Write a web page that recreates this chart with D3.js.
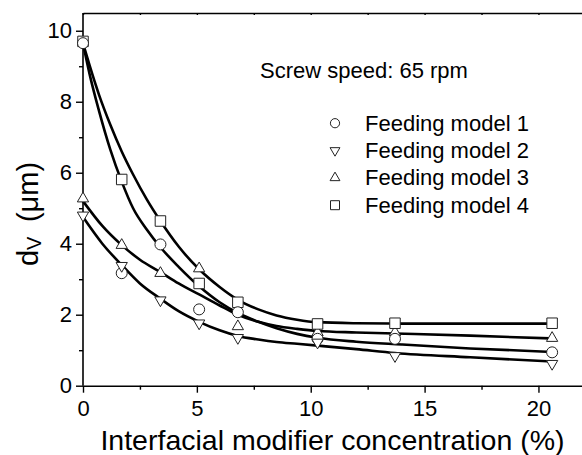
<!DOCTYPE html>
<html>
<head>
<meta charset="utf-8">
<script src="https://cdn.jsdelivr.net/npm/d3@7"></script>
<style>
  html, body { margin: 0; padding: 0; background: #fff; }
  svg { display: block; }
  text { font-family: "Liberation Sans", Arial, Helvetica, sans-serif; fill: #000; }
</style>
</head>
<body>
<svg id="chart" width="582" height="455"></svg>
<script>
// ---- data ----
const concentrations = [0, 1.7, 3.4, 5.1, 6.8, 10.3, 13.7, 20.6];
const model1 = [9.65, 3.17, 3.98, 2.15, 2.07, 1.32, 1.32, 0.94];   // circles
const model2 = [4.80, 3.38, 2.41, 1.76, 1.35, 1.22, 0.84, 0.62];   // down triangles
const model3 = [5.27, 3.96, 3.17, 3.30, 1.67, 1.50, 1.50, 1.34];   // up triangles
const model4 = [9.70, 5.81, 4.64, 2.88, 2.35, 1.74, 1.76, 1.76];   // squares

// fitted curves
const fitX1 = [0, 0.3, 0.7, 1.2, 1.7, 2.2, 2.8, 3.4, 4.2, 5.1, 6.0, 6.8, 7.7, 8.5, 9.4, 10.3, 12, 14, 17, 20.6];
const fit1  = [9.65, 8.75, 7.75, 6.65, 5.75, 5.0, 4.4, 3.9, 3.35, 2.8, 2.35, 2.05, 1.8, 1.62, 1.46, 1.35, 1.24, 1.16, 1.05, 0.95];
const fitX2 = [0, 0.85, 1.7, 2.5, 3.4, 4.2, 5.1, 6.0, 6.8, 7.7, 8.5, 9.4, 10.3, 12, 13.7, 17, 20.6];
const fit2  = [4.75, 4.0, 3.4, 2.88, 2.45, 2.1, 1.8, 1.56, 1.4, 1.3, 1.23, 1.18, 1.13, 1.03, 0.92, 0.8, 0.68];
const fit3  = [5.2, 4.5, 3.96, 3.55, 3.2, 2.88, 2.57, 2.26, 2.0, 1.8, 1.68, 1.6, 1.54, 1.5, 1.47, 1.41, 1.33];
const fitX4 = [0, 0.3, 0.7, 1.2, 1.7, 2.2, 2.8, 3.4, 4.2, 5.1, 6.0, 6.8, 7.7, 8.5, 9.4, 10.3, 12, 14, 20.6];
const fit4  = [9.65, 9.0, 8.2, 7.35, 6.6, 5.95, 5.25, 4.64, 3.92, 3.28, 2.78, 2.42, 2.15, 1.98, 1.86, 1.79, 1.76, 1.75, 1.75];

const xMajor = [0, 5, 10, 15, 20];
const xMinor = [2.5, 7.5, 12.5, 17.5];
const yMajor = [0, 2, 4, 6, 8, 10];
const yMinor = [1, 3, 5, 7, 9];
const legendLabels = ["Feeding model 1", "Feeding model 2", "Feeding model 3", "Feeding model 4"];
const annotation = "Screw speed: 65 rpm";
const xTitle = "Interfacial modifier concentration (%)";

// ---- drawing ----
const svg = d3.select("#chart");
const pLeft = 83, pRight = 584, pTop = 13, pBottom = 385.7;
const x = d3.scaleLinear().domain([0, 22]).range([pLeft, pRight]);
const y = d3.scaleLinear().domain([0, 10.5]).range([pBottom, pTop]);

// axes
svg.append("g").attr("transform", `translate(0,${pBottom})`)
  .call(d3.axisBottom(x).tickValues(xMajor).tickSize(7).tickPadding(8).tickSizeOuter(0).tickFormat(d3.format("d")));
svg.append("g").attr("transform", `translate(0,${pBottom})`)
  .call(d3.axisBottom(x).tickValues(xMinor).tickSize(4).tickFormat("").tickSizeOuter(0))
  .select(".domain").remove();
const gy = svg.append("g").attr("transform", `translate(${pLeft},0)`)
  .call(d3.axisLeft(y).tickValues(yMajor).tickSize(7).tickPadding(4).tickSizeOuter(0).tickFormat(d3.format("d")));
svg.append("g").attr("transform", `translate(${pLeft},0)`)
  .call(d3.axisLeft(y).tickValues(yMinor).tickSize(4).tickFormat("").tickSizeOuter(0))
  .select(".domain").remove();
// top frame with small inward ticks
svg.append("g").attr("transform", `translate(0,${pTop})`)
  .call(d3.axisTop(x).tickValues(xMajor.concat(xMinor)).tickSize(-2).tickFormat("").tickSizeOuter(0));

svg.selectAll(".domain").attr("stroke", "#000").attr("stroke-width", 1.6);
svg.selectAll(".tick line").attr("stroke", "#000").attr("stroke-width", 1.4);
svg.selectAll(".tick text").attr("font-size", 22).attr("font-family", "Liberation Sans, Arial, sans-serif").attr("fill", "#000");
gy.select(".domain").attr("d", `M0,${pBottom}V${pTop}`);

// axis titles
svg.append("text")
  .attr("x", (pLeft + 582) / 2).attr("y", 450)
  .attr("text-anchor", "middle").attr("font-size", 28.5)
  .text(xTitle);

const yt = svg.append("text")
  .attr("transform", "translate(38,214) rotate(-90)")
  .attr("text-anchor", "middle").attr("font-size", 29);
yt.append("tspan").text("d");
yt.append("tspan").attr("font-size", 20).attr("dy", 3).text("V");
yt.append("tspan").attr("dy", -3).text("\u2002(\u03BCm)");

// curves
const line = d3.line().x(d => x(d[0])).y(d => y(d[1])).curve(d3.curveMonotoneX);
const fits = [
  d3.zip(fitX4, fit4),
  d3.zip(fitX1, fit1),
  d3.zip(fitX2, fit3),
  d3.zip(fitX2, fit2)
];
svg.append("g").selectAll("path").data(fits).join("path")
  .attr("d", line).attr("fill", "none").attr("stroke", "#000").attr("stroke-width", 2.6)
  .attr("stroke-linejoin", "round");

// symbols
const sym = {
  circle: d3.symbol().type(d3.symbolCircle).size(Math.PI * 5.5 * 5.5),
  square: d3.symbol().type(d3.symbolSquare).size(10.5 * 10.5),
  tri: d3.symbol().type(d3.symbolTriangle).size(55)
};
function drawSymbols(values, kind, rot) {
  svg.append("g").selectAll("path").data(d3.zip(concentrations, values)).join("path")
    .attr("d", sym[kind]())
    .attr("transform", d => `translate(${x(d[0])},${y(d[1])})` + (rot ? " rotate(180)" : ""))
    .attr("fill", "#fff").attr("stroke", "#222").attr("stroke-width", 1);
}
drawSymbols(model3, "tri", false);
drawSymbols(model4, "square", false);
drawSymbols(model1, "circle", false);
drawSymbols(model2, "tri", true);

// annotation
svg.append("text").attr("x", 260).attr("y", 77.5).attr("font-size", 22).text(annotation);

// legend
const legKinds = [["circle", false], ["tri", true], ["tri", false], ["square", false]];
const legY = [130.7, 158, 185.3, 212.7];
legendLabels.forEach((lab, i) => {
  const [kind, rot] = legKinds[i];
  let gen;
  if (kind === "circle") gen = d3.symbol().type(d3.symbolCircle).size(Math.PI * 4.6 * 4.6);
  else if (kind === "square") gen = d3.symbol().type(d3.symbolSquare).size(9 * 9);
  else gen = d3.symbol().type(d3.symbolTriangle).size(42);
  svg.append("path").attr("d", gen())
    .attr("transform", `translate(335,${legY[i] - 7.5})` + (rot ? " rotate(180)" : ""))
    .attr("fill", "#fff").attr("stroke", "#222").attr("stroke-width", 1);
  svg.append("text").attr("x", 365).attr("y", legY[i]).attr("font-size", 22).text(lab);
});
</script>
</body>
</html>
